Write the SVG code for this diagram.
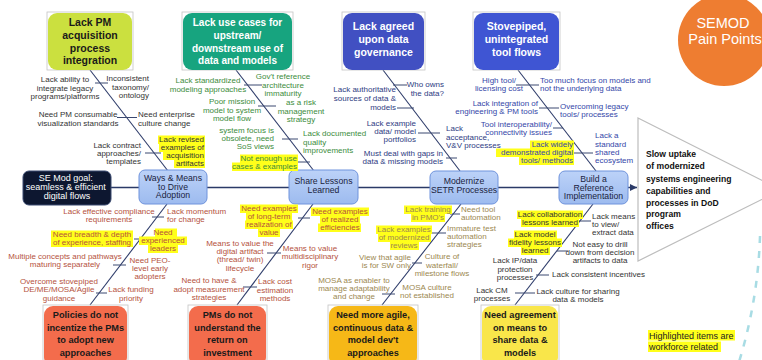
<svg xmlns="http://www.w3.org/2000/svg" width="762" height="360" viewBox="0 0 762 360">
<defs>
<style>
.l{font-family:"Liberation Sans",Arial,sans-serif;font-size:8px}
.m{text-anchor:middle}
.e{text-anchor:end}
.c1{fill:#333333}
.c2{fill:#3c8c3c}
.c3{fill:#2e3b82}
.c4{fill:#3446a8}
.cr{fill:#b5523d}
.cy{fill:#9c8850}
.hl{fill:#ffff1a}
.bone{stroke:#2e3c6a;stroke-width:1.1;fill:none}
.tick{stroke:#3a4870;stroke-width:1;fill:none}
.frame{fill:none;stroke:#c4c4c4;stroke-width:0.8}
.cause{font-family:"Liberation Sans",Arial,sans-serif;font-weight:bold;text-anchor:middle}
.mid{fill:url(#midFill);stroke:#6f93dc;stroke-width:1}
.midt{font-family:"Liberation Sans",Arial,sans-serif;font-size:8.7px;fill:#1a2340;text-anchor:middle}
</style>
<linearGradient id="midFill" x1="0" y1="0" x2="0" y2="1">
<stop offset="0" stop-color="#bcd2f8"/>
<stop offset="1" stop-color="#9dbbef"/>
</linearGradient>
<marker id="arrow" markerUnits="userSpaceOnUse" markerWidth="8" markerHeight="8" refX="7" refY="4" orient="auto">
<path d="M0,0.5 L7,4 L0,7.5 z" fill="#2b3a67"/>
</marker>
</defs>

<!-- light dashed decoration on the right -->
<path d="M760 236 Q758 300 739 362" fill="none" stroke="#a8dce4" stroke-width="2.5" stroke-dasharray="7 8"/>

<!-- spine, bones and branch ticks -->
<g id="connectors">
<line x1="111" y1="187.5" x2="637" y2="187.5" stroke="#2b3a67" stroke-width="1.3" marker-end="url(#arrow)"/>
<line class="bone" x1="90" y1="70" x2="168" y2="171"/>
<line class="bone" x1="236" y1="70" x2="314" y2="171"/>
<line class="bone" x1="383" y1="70" x2="460" y2="171"/>
<line class="bone" x1="518" y1="70" x2="596" y2="171"/>
<line class="bone" x1="167" y1="204" x2="90" y2="305"/>
<line class="bone" x1="313" y1="204" x2="237" y2="305"/>
<line class="bone" x1="461" y1="204" x2="382" y2="305"/>
<line class="bone" x1="593" y1="204" x2="515" y2="305"/>
<line class="tick" x1="95" y1="83" x2="108" y2="83"/>
<line class="tick" x1="117" y1="117.5" x2="137" y2="117.5"/>
<line class="tick" x1="145" y1="153" x2="161" y2="153"/>
<line class="tick" x1="244" y1="85" x2="262" y2="85"/>
<line class="tick" x1="258" y1="106" x2="276" y2="106"/>
<line class="tick" x1="282" y1="139" x2="298" y2="139"/>
<line class="tick" x1="298" y1="162" x2="310" y2="162"/>
<line class="tick" x1="393" y1="85" x2="407" y2="85"/>
<line class="tick" x1="397" y1="108" x2="414" y2="108"/>
<line class="tick" x1="418" y1="133" x2="440" y2="133"/>
<line class="tick" x1="446" y1="158" x2="457" y2="158"/>
<line class="tick" x1="516" y1="85" x2="539" y2="85"/>
<line class="tick" x1="539" y1="108" x2="559" y2="108"/>
<line class="tick" x1="553" y1="128" x2="563" y2="128"/>
<line class="tick" x1="573" y1="153" x2="593" y2="153"/>
<line class="tick" x1="152" y1="217" x2="164" y2="217"/>
<line class="tick" x1="134" y1="239" x2="148" y2="239"/>
<line class="tick" x1="113" y1="265" x2="126" y2="265"/>
<line class="tick" x1="96" y1="293" x2="107" y2="293"/>
<line class="tick" x1="298" y1="218" x2="310" y2="218"/>
<line class="tick" x1="267" y1="253" x2="281" y2="253"/>
<line class="tick" x1="243" y1="287" x2="257" y2="287"/>
<line class="tick" x1="450" y1="214" x2="460" y2="214"/>
<line class="tick" x1="432" y1="233" x2="446" y2="233"/>
<line class="tick" x1="412" y1="263" x2="422" y2="263"/>
<line class="tick" x1="382" y1="294" x2="395" y2="294"/>
<line class="tick" x1="577" y1="221" x2="591" y2="221"/>
<line class="tick" x1="557" y1="251" x2="568" y2="251"/>
<line class="tick" x1="536" y1="275" x2="549" y2="275"/>
<line class="tick" x1="515" y1="293" x2="535" y2="293"/>
</g>

<!-- head: effect triangle -->
<g id="effect">
<polygon points="638,118 781,190 638,261" fill="#ffffff" stroke="#bdbdbd" stroke-width="1.2"/>
<text font-family="Liberation Sans, Arial, sans-serif" font-weight="bold" font-size="8.6" fill="#111111">
<tspan x="646" y="157">Slow uptake</tspan>
<tspan x="646" y="169">of modernized</tspan>
<tspan x="646" y="181.5">systems engineering</tspan>
<tspan x="646" y="193.5">capabilities and</tspan>
<tspan x="646" y="205.5">processes in DoD</tspan>
<tspan x="646" y="217">program</tspan>
<tspan x="646" y="229">offices</tspan>
</text>
</g>

<g id="semod">
<circle cx="724" cy="40" r="46" fill="#ee7d31"/>
<text font-family="Liberation Sans, Arial, sans-serif" font-size="14.5" fill="#ffffff" text-anchor="middle">
<tspan x="725" y="28">SEMOD</tspan>
<tspan x="725" y="44">Pain Points</tspan>
</text>
</g>

<!-- spine nodes -->
<g id="goal">
<rect x="23" y="171" width="88" height="34" rx="6" fill="#0d1730" stroke="#3a4a70"/>
<text font-family="Liberation Sans, Arial, sans-serif" font-size="9" fill="#ffffff" text-anchor="middle">
<tspan x="67" y="180.5">SE Mod goal:</tspan>
<tspan x="67" y="189.5">seamless &amp; efficient</tspan>
<tspan x="67" y="198.5">digital flows</tspan>
</text>
</g>
<g id="ways-means">
<rect class="mid" x="139" y="170" width="68" height="34" rx="6"/>
<text class="midt"><tspan x="173" y="181">Ways &amp; Means</tspan><tspan x="173" y="189.5">to Drive</tspan><tspan x="173" y="198">Adoption</tspan></text>
</g>
<g id="share-lessons">
<rect class="mid" x="289" y="170" width="69" height="34" rx="6"/>
<text class="midt"><tspan x="323.5" y="184">Share Lessons</tspan><tspan x="323.5" y="193">Learned</tspan></text>
</g>
<g id="modernize-setr">
<rect class="mid" x="430" y="171" width="68" height="33" rx="6"/>
<text class="midt"><tspan x="464" y="184">Modernize</tspan><tspan x="464" y="193">SETR Processes</tspan></text>
</g>
<g id="reference-impl">
<rect class="mid" x="559" y="171" width="69" height="33" rx="6"/>
<text class="midt"><tspan x="593.5" y="182">Build a</tspan><tspan x="593.5" y="190.5">Reference</tspan><tspan x="593.5" y="199">Implementation</tspan></text>
</g>

<!-- top causes -->
<g id="cause-pm-acquisition">
<rect class="frame" x="47" y="12" width="86" height="58"/>
<rect x="48" y="13" width="84" height="57" rx="9" fill="#cbe03f"/>
<text class="cause" font-size="10.5" fill="#1a1a1a"><tspan x="90" y="26">Lack PM</tspan><tspan x="90" y="38.5">acquisition</tspan><tspan x="90" y="51.5">process</tspan><tspan x="90" y="64">integration</tspan></text>
</g>
<g id="cause-use-cases">
<rect class="frame" x="182" y="12" width="111" height="58"/>
<rect x="183" y="13" width="109" height="57" rx="9" fill="#17a47f"/>
<text class="cause" font-size="10" fill="#ffffff"><tspan x="237.5" y="25.5">Lack use cases for</tspan><tspan x="237.5" y="38.5">upstream/</tspan><tspan x="237.5" y="51.5">downstream use of</tspan><tspan x="237.5" y="64">data and models</tspan></text>
</g>
<g id="cause-governance">
<rect class="frame" x="342" y="12" width="83" height="58"/>
<rect x="343" y="13" width="81" height="57" rx="9" fill="#4150c2"/>
<text class="cause" font-size="10.5" fill="#ffffff"><tspan x="383.5" y="30">Lack agreed</tspan><tspan x="383.5" y="43">upon data</tspan><tspan x="383.5" y="56">governance</tspan></text>
</g>
<g id="cause-tool-flows">
<rect class="frame" x="473" y="12" width="87" height="58"/>
<rect x="474" y="13" width="85" height="57" rx="9" fill="#3f55d3"/>
<text class="cause" font-size="10.5" fill="#ffffff"><tspan x="516.5" y="30">Stovepiped,</tspan><tspan x="516.5" y="43">unintegrated</tspan><tspan x="516.5" y="56">tool flows</tspan></text>
</g>

<!-- bottom causes -->
<g id="cause-incentives">
<rect class="frame" x="43" y="305" width="85" height="60"/>
<rect x="44" y="306" width="83" height="60" rx="9" fill="#f36c4c"/>
<text class="cause" font-size="9.2" fill="#1a1a1a"><tspan x="85.5" y="318">Policies do not</tspan><tspan x="85.5" y="330.5">incentize the PMs</tspan><tspan x="85.5" y="343">to adopt new</tspan><tspan x="85.5" y="355.5">approaches</tspan></text>
</g>
<g id="cause-roi">
<rect class="frame" x="188" y="305" width="79" height="60"/>
<rect x="189" y="306" width="77" height="60" rx="9" fill="#f36c4c"/>
<text class="cause" font-size="9.2" fill="#1a1a1a"><tspan x="227.5" y="318">PMs do not</tspan><tspan x="227.5" y="330.5">understand the</tspan><tspan x="227.5" y="343">return on</tspan><tspan x="227.5" y="355.5">investment</tspan></text>
</g>
<g id="cause-agile">
<rect class="frame" x="328" y="305" width="90" height="60"/>
<rect x="329" y="306" width="88" height="60" rx="9" fill="#f6b817"/>
<text class="cause" font-size="9.2" fill="#1a1a1a"><tspan x="373" y="318">Need more agile,</tspan><tspan x="373" y="330.5">continuous data &amp;</tspan><tspan x="373" y="343">model dev't</tspan><tspan x="373" y="355.5">approaches</tspan></text>
</g>
<g id="cause-sharing">
<rect class="frame" x="481" y="305" width="78" height="60"/>
<rect x="482" y="306" width="76" height="60" rx="9" fill="#f9e64a"/>
<text class="cause" font-size="9.2" fill="#1a1a1a"><tspan x="520" y="318">Need agreement</tspan><tspan x="520" y="330.5">on means to</tspan><tspan x="520" y="343">share data &amp;</tspan><tspan x="520" y="355.5">models</tspan></text>
</g>

<!-- branch labels: acquisition integration -->
<g id="labels-acquisition">
<text class="l c1 m"><tspan x="65" y="82">Lack ability to</tspan><tspan x="65" y="90.5">integrate legacy</tspan><tspan x="65" y="99">programs/platforms</tspan></text>
<text class="l c1 e"><tspan x="149" y="81">Inconsistent</tspan><tspan x="149" y="89.5">taxonomy/</tspan><tspan x="149" y="98">ontology</tspan></text>
<text class="l c1 m"><tspan x="78" y="117">Need PM consumable</tspan><tspan x="78" y="125.5">visualization standards</tspan></text>
<text class="l c1"><tspan x="138" y="117">Need enterprise</tspan><tspan x="138" y="125.5">culture change</tspan></text>
<text class="l c1 e"><tspan x="141" y="148">Lack contract</tspan><tspan x="141" y="156">approaches/</tspan><tspan x="141" y="164">templates</tspan></text>
<rect class="hl" x="158" y="135.5" width="47" height="8.5"/>
<rect class="hl" x="159" y="143.5" width="46" height="8.5"/>
<rect class="hl" x="163" y="151.5" width="42" height="8.5"/>
<rect class="hl" x="174" y="159.5" width="31" height="8.5"/>
<text class="l c1 e"><tspan x="204" y="142">Lack revised</tspan><tspan x="204" y="150">examples of</tspan><tspan x="204" y="158">acquisition</tspan><tspan x="204" y="166">artifacts</tspan></text>
</g>

<!-- branch labels: use cases -->
<g id="labels-use-cases">
<text class="l c2 m"><tspan x="208" y="83">Lack standardized</tspan><tspan x="208" y="91.5">modeling approaches</tspan></text>
<text class="l c2 m"><tspan x="283" y="79">Gov't reference</tspan><tspan x="283" y="87.5">architecture</tspan><tspan x="283" y="96">immaturity</tspan></text>
<text class="l c2 m"><tspan x="232" y="104">Poor mission</tspan><tspan x="232" y="112.5">model to system</tspan><tspan x="232" y="121">model flow</tspan></text>
<text class="l c2 m"><tspan x="301" y="105">as a risk</tspan><tspan x="301" y="113.5">management</tspan><tspan x="301" y="122">strategy</tspan></text>
<text class="l c2 e"><tspan x="274" y="133">system focus is</tspan><tspan x="274" y="141">obsolete, need</tspan><tspan x="274" y="149">SoS views</tspan></text>
<text class="l c2"><tspan x="303" y="136">Lack documented</tspan><tspan x="303" y="144.5">quality</tspan><tspan x="303" y="153">improvements</tspan></text>
<rect class="hl" x="240" y="154.5" width="58" height="8.5"/>
<rect class="hl" x="232" y="162.5" width="66" height="8.5"/>
<text class="l c2 e"><tspan x="297" y="161">Not enough use</tspan><tspan x="297" y="169">cases &amp; examples</tspan></text>
</g>

<!-- branch labels: data governance -->
<g id="labels-governance">
<text class="l c3 e"><tspan x="444" y="87">Who owns</tspan><tspan x="444" y="95.5">the data?</tspan></text>
<text class="l c3 e"><tspan x="396" y="92">Lack authoritative</tspan><tspan x="396" y="101">sources of data &amp;</tspan><tspan x="396" y="109.5">models</tspan></text>
<text class="l c3 e"><tspan x="416" y="126">Lack example</tspan><tspan x="416" y="134">data/ model</tspan><tspan x="416" y="142">portfolios</tspan></text>
<text class="l c3"><tspan x="446" y="131">Lack</tspan><tspan x="446" y="139.5">acceptance,</tspan><tspan x="446" y="148">V&amp;V processes</tspan></text>
<text class="l c3 e"><tspan x="443" y="156">Must deal with gaps in</tspan><tspan x="443" y="164">data &amp; missing models</tspan></text>
</g>

<!-- branch labels: tool flows -->
<g id="labels-tool-flows">
<text class="l c4 m"><tspan x="499" y="83">High tool/</tspan><tspan x="499" y="91">licensing cost</tspan></text>
<text class="l c4"><tspan x="540" y="83">Too much focus on models and</tspan><tspan x="540" y="91">not the underlying data</tspan></text>
<text class="l c4 e"><tspan x="538" y="106">Lack integration of</tspan><tspan x="538" y="114">engineering &amp; PM tools</tspan></text>
<text class="l c4"><tspan x="560" y="109">Overcoming legacy</tspan><tspan x="560" y="117">tools/ processes</tspan></text>
<text class="l c4 e"><tspan x="552" y="127">Tool interoperability/</tspan><tspan x="552" y="135">connectivity issues</tspan></text>
<text class="l c4"><tspan x="595" y="138">Lack a</tspan><tspan x="595" y="146.5">standard</tspan><tspan x="595" y="155">shared</tspan><tspan x="595" y="163">ecosystem</tspan></text>
<rect class="hl" x="530" y="140.5" width="44" height="8.5"/>
<rect class="hl" x="496" y="148.5" width="78" height="8.5"/>
<rect class="hl" x="519" y="156.5" width="55" height="8.5"/>
<text class="l c4 e"><tspan x="573" y="147">Lack widely</tspan><tspan x="573" y="155">demonstrated digital</tspan><tspan x="573" y="163">tools/ methods</tspan></text>
</g>

<!-- branch labels: incentives -->
<g id="labels-incentives">
<text class="l cr m"><tspan x="109" y="214">Lack effective compliance</tspan><tspan x="109" y="222">requirements</tspan></text>
<text class="l cr"><tspan x="167" y="214">Lack momentum</tspan><tspan x="167" y="222">for change</tspan></text>
<rect class="hl" x="51" y="230.5" width="82" height="8.5"/>
<rect class="hl" x="51" y="238.5" width="82" height="8.5"/>
<text class="l cr m"><tspan x="92" y="237">Need breadth &amp; depth</tspan><tspan x="92" y="245">of experience, staffing</tspan></text>
<rect class="hl" x="155" y="228.5" width="22" height="8.5"/>
<rect class="hl" x="139" y="236.5" width="48" height="8.5"/>
<rect class="hl" x="148" y="244.5" width="30" height="8.5"/>
<text class="l cr m"><tspan x="163" y="235">Need</tspan><tspan x="163" y="243">experienced</tspan><tspan x="163" y="251">leaders</tspan></text>
<text class="l cr m"><tspan x="65" y="259">Multiple concepts and pathways</tspan><tspan x="65" y="267">maturing separately</tspan></text>
<text class="l cr m"><tspan x="150" y="263">Need PEO-</tspan><tspan x="150" y="271">level early</tspan><tspan x="150" y="279">adopters</tspan></text>
<text class="l cr m"><tspan x="59" y="284">Overcome stovepiped</tspan><tspan x="59" y="292">DE/ME/MOSA/Agile</tspan><tspan x="59" y="300.5">guidance</tspan></text>
<text class="l cr m"><tspan x="131" y="292">Lack funding</tspan><tspan x="131" y="300.5">priority</tspan></text>
</g>

<!-- branch labels: return on investment -->
<g id="labels-roi">
<rect class="hl" x="240" y="204.5" width="58" height="8.5"/>
<rect class="hl" x="246" y="212.5" width="46" height="8.5"/>
<rect class="hl" x="245" y="220.5" width="48" height="8.5"/>
<rect class="hl" x="258" y="228.5" width="22" height="8.5"/>
<text class="l cr m"><tspan x="269" y="211">Need examples</tspan><tspan x="269" y="219">of long-term</tspan><tspan x="269" y="227">realization of</tspan><tspan x="269" y="235">value</tspan></text>
<rect class="hl" x="311" y="207.5" width="58" height="8.5"/>
<rect class="hl" x="320" y="215.5" width="40" height="8.5"/>
<rect class="hl" x="318" y="223.5" width="43" height="8.5"/>
<text class="l cr m"><tspan x="340" y="214">Need examples</tspan><tspan x="340" y="222">of realized</tspan><tspan x="340" y="230">efficiencies</tspan></text>
<text class="l cr m"><tspan x="240" y="246">Means to value the</tspan><tspan x="240" y="254">digital artifact</tspan><tspan x="240" y="262">(thread/ twin)</tspan><tspan x="240" y="270.5">lifecycle</tspan></text>
<text class="l cr m"><tspan x="310" y="251">Means to value</tspan><tspan x="310" y="259">multidisciplinary</tspan><tspan x="310" y="267.5">rigor</tspan></text>
<text class="l cr m"><tspan x="209" y="283">Need to have &amp;</tspan><tspan x="209" y="291.5">adopt measurement</tspan><tspan x="209" y="300">strategies</tspan></text>
<text class="l cr m"><tspan x="275" y="284">Lack cost</tspan><tspan x="275" y="292.5">estimation</tspan><tspan x="275" y="301">methods</tspan></text>
</g>

<!-- branch labels: agile approaches -->
<g id="labels-agile">
<rect class="hl" x="404" y="205.5" width="48" height="8.5"/>
<rect class="hl" x="411" y="213.5" width="34" height="8.5"/>
<text class="l cy m"><tspan x="428" y="212">Lack training</tspan><tspan x="428" y="220">in PMO's</tspan></text>
<text class="l cy"><tspan x="461" y="212">Need tool</tspan><tspan x="461" y="220">automation</tspan></text>
<rect class="hl" x="376" y="225.5" width="56" height="8.5"/>
<rect class="hl" x="378" y="233.5" width="53" height="8.5"/>
<rect class="hl" x="390" y="241.5" width="29" height="8.5"/>
<text class="l cy m"><tspan x="404" y="232">Lack examples</tspan><tspan x="404" y="240">of modernized</tspan><tspan x="404" y="248">reviews</tspan></text>
<text class="l cy"><tspan x="447" y="231">Immature test</tspan><tspan x="447" y="239">automation</tspan><tspan x="447" y="247">strategies</tspan></text>
<text class="l cy e"><tspan x="411" y="260">View that agile</tspan><tspan x="411" y="268">is for SW only</tspan></text>
<text class="l cy m"><tspan x="442" y="259">Culture of</tspan><tspan x="442" y="267.5">waterfall/</tspan><tspan x="442" y="276">milestone flows</tspan></text>
<text class="l cy m"><tspan x="354" y="283">MOSA as enabler to</tspan><tspan x="354" y="291">manage adaptability</tspan><tspan x="354" y="299">and change</tspan></text>
<text class="l cy m"><tspan x="427" y="290">MOSA culture</tspan><tspan x="427" y="298">not established</tspan></text>
</g>

<!-- branch labels: sharing data and models -->
<g id="labels-sharing">
<rect class="hl" x="517" y="210.5" width="66" height="8.5"/>
<rect class="hl" x="521" y="218.5" width="58" height="8.5"/>
<text class="l c1 m"><tspan x="550" y="217">Lack collaboration</tspan><tspan x="550" y="225">lessons learned</tspan></text>
<text class="l c1"><tspan x="592" y="219">Lack means</tspan><tspan x="592" y="227">to view/</tspan><tspan x="592" y="235">extract data</tspan></text>
<rect class="hl" x="514" y="230.5" width="43" height="8.5"/>
<rect class="hl" x="508" y="238.5" width="54" height="8.5"/>
<rect class="hl" x="521" y="246.5" width="29" height="8.5"/>
<text class="l c1 m"><tspan x="535" y="237">Lack model</tspan><tspan x="535" y="245">fidelity lessons</tspan><tspan x="535" y="253">learned</tspan></text>
<text class="l c1 m"><tspan x="600" y="247">Not easy to drill</tspan><tspan x="600" y="255">down from decision</tspan><tspan x="600" y="263">artifacts to data</tspan></text>
<text class="l c1 m"><tspan x="515" y="263">Lack IP/data</tspan><tspan x="515" y="271.5">protection</tspan><tspan x="515" y="280">processes</tspan></text>
<text class="l c1"><tspan x="552" y="277">Lack consistent incentives</tspan></text>
<text class="l c1 m"><tspan x="492" y="293">Lack CM</tspan><tspan x="492" y="301">processes</tspan></text>
<text class="l c1 m"><tspan x="578" y="294">Lack culture for sharing</tspan><tspan x="578" y="302">data &amp; models</tspan></text>
</g>

<g id="legend">
<rect class="hl" x="648" y="330" width="87" height="10.5"/>
<rect class="hl" x="648" y="341.5" width="73" height="10.5"/>
<text font-family="Liberation Sans, Arial, sans-serif" font-size="9" fill="#222222"><tspan x="649" y="338.5">Highlighted items are</tspan><tspan x="649" y="350">workforce related</tspan></text>
</g>
</svg>
